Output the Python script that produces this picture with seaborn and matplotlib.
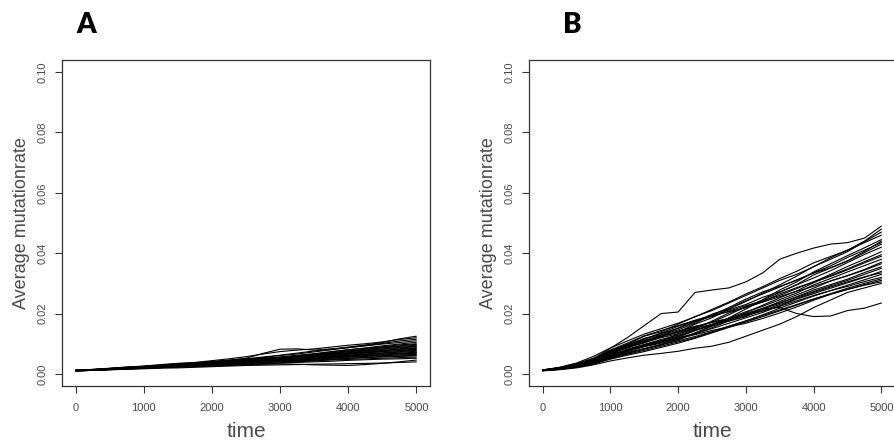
import numpy as np
import pandas as pd
import matplotlib
matplotlib.use('Agg')
import matplotlib.pyplot as plt
import seaborn as sns

sns.set_style('white')
plt.rcParams['font.family'] = ['Liberation Sans', 'DejaVu Sans']

# time checkpoints
time = [0, 250, 500, 750, 1000, 1250, 1500, 1750, 2000, 2250, 2500,
        2750, 3000, 3250, 3500, 3750, 4000, 4250, 4500, 4750, 5000]

# panel A, average mutation rate per run (x 1e-3)
runs_a = [
    [1.1, 1.4, 1.7, 2.1, 2.5, 2.8, 3.2, 3.6, 4.0, 4.5, 5.0, 5.6, 6.2, 6.9, 7.6, 8.2, 8.9, 9.6, 10.4, 11.6, 12.5],
    [1.2, 1.5, 1.9, 2.3, 2.6, 3.1, 3.5, 3.8, 4.4, 5.0, 5.7, 6.6, 7.4, 7.9, 8.3, 8.9, 9.5, 10.0, 10.6, 11.4, 12.0],
    [1.1, 1.3, 1.6, 1.9, 2.3, 2.7, 3.0, 3.5, 3.9, 4.3, 4.9, 5.4, 6.1, 6.6, 7.3, 8.0, 8.7, 9.4, 10.1, 10.9, 11.5],
    [1.2, 1.4, 1.8, 2.2, 2.4, 2.9, 3.4, 3.7, 4.1, 4.6, 5.2, 6.8, 8.2, 8.3, 7.9, 8.3, 8.7, 9.3, 9.9, 10.4, 11.0],
    [1.1, 1.3, 1.6, 2.0, 2.3, 2.6, 3.0, 3.3, 3.7, 4.2, 4.6, 5.1, 5.6, 6.2, 6.7, 7.4, 8.0, 8.6, 9.3, 9.9, 10.5],
    [1.2, 1.4, 1.7, 2.0, 2.4, 2.7, 3.1, 3.4, 3.8, 4.1, 4.5, 5.0, 5.5, 6.0, 6.6, 7.3, 8.0, 8.5, 9.0, 9.6, 10.0],
    [1.0, 1.2, 1.5, 1.8, 2.1, 2.5, 2.8, 3.1, 3.4, 3.9, 4.4, 4.9, 5.4, 5.8, 6.4, 7.0, 7.6, 8.2, 8.8, 9.3, 9.8],
    [1.1, 1.4, 1.8, 2.1, 2.5, 2.9, 3.2, 3.6, 4.0, 4.4, 4.8, 5.2, 5.5, 5.9, 6.4, 6.9, 7.5, 8.0, 8.6, 9.1, 9.5],
    [1.2, 1.3, 1.6, 1.9, 2.2, 2.5, 2.8, 3.1, 3.5, 3.8, 4.2, 4.7, 5.2, 5.8, 6.3, 6.8, 7.3, 7.8, 8.3, 8.8, 9.2],
    [1.1, 1.3, 1.5, 1.8, 2.2, 2.6, 2.9, 3.3, 3.6, 4.0, 4.4, 4.8, 5.1, 5.5, 6.0, 6.5, 7.0, 7.6, 8.1, 8.6, 9.0],
    [1.2, 1.5, 1.8, 2.2, 2.5, 2.8, 3.1, 3.3, 3.6, 3.9, 4.3, 4.8, 5.3, 5.7, 6.1, 6.6, 7.0, 7.4, 7.8, 8.3, 8.7],
    [1.1, 1.3, 1.6, 1.9, 2.1, 2.4, 2.7, 3.1, 3.5, 3.9, 4.3, 4.6, 5.0, 5.4, 5.8, 6.3, 6.8, 7.2, 7.6, 8.1, 8.5],
    [1.0, 1.2, 1.4, 1.7, 2.0, 2.3, 2.6, 2.9, 3.2, 3.6, 4.0, 4.4, 4.8, 5.2, 5.6, 6.0, 6.5, 6.9, 7.4, 7.8, 8.2],
    [1.2, 1.4, 1.7, 2.0, 2.3, 2.6, 2.9, 3.2, 3.5, 3.8, 4.1, 4.4, 4.8, 5.3, 5.9, 6.3, 6.6, 7.0, 7.4, 7.7, 8.0],
    [1.1, 1.3, 1.5, 1.7, 2.0, 2.3, 2.7, 3.0, 3.3, 3.6, 4.0, 4.3, 4.6, 5.0, 5.4, 5.8, 6.2, 6.6, 7.0, 7.4, 7.8],
    [1.1, 1.4, 1.7, 2.0, 2.3, 2.5, 2.8, 3.0, 3.3, 3.6, 3.9, 4.3, 4.7, 5.1, 5.4, 5.8, 6.2, 6.5, 6.9, 7.2, 7.5],
    [1.2, 1.3, 1.5, 1.8, 2.0, 2.3, 2.5, 2.8, 3.1, 3.4, 3.7, 4.0, 4.4, 4.8, 5.2, 5.6, 5.9, 6.3, 6.6, 6.9, 7.2],
    [1.0, 1.2, 1.5, 1.8, 2.1, 2.4, 2.7, 3.0, 3.4, 3.8, 4.1, 4.4, 4.6, 4.9, 5.2, 5.5, 5.8, 6.1, 6.4, 6.7, 7.0],
    [1.1, 1.3, 1.6, 1.8, 2.0, 2.2, 2.5, 2.8, 3.0, 3.3, 3.6, 3.9, 4.2, 4.5, 4.9, 5.3, 5.7, 6.0, 6.3, 6.6, 6.8],
    [1.2, 1.4, 1.6, 1.9, 2.2, 2.5, 2.8, 3.0, 3.2, 3.5, 3.8, 4.1, 4.4, 4.7, 4.9, 5.2, 5.5, 5.8, 6.0, 6.3, 6.5],
    [1.1, 1.2, 1.4, 1.6, 1.9, 2.1, 2.4, 2.7, 2.9, 3.2, 3.5, 3.8, 4.1, 4.3, 4.6, 4.9, 5.2, 5.5, 5.8, 6.0, 6.2],
    [1.0, 1.2, 1.5, 1.7, 1.9, 2.2, 2.4, 2.6, 2.9, 3.2, 3.5, 3.8, 4.0, 4.3, 4.5, 4.8, 5.1, 5.4, 5.6, 5.8, 6.0],
    [1.1, 1.3, 1.5, 1.7, 1.9, 2.1, 2.3, 2.5, 2.7, 2.9, 3.1, 3.4, 3.7, 4.0, 4.3, 4.6, 4.8, 5.0, 5.2, 5.4, 5.6],
    [1.2, 1.4, 1.6, 1.8, 2.0, 2.2, 2.4, 2.6, 2.8, 3.0, 3.2, 3.4, 3.6, 3.8, 4.0, 4.2, 4.5, 4.7, 4.9, 5.0, 5.2],
    [1.1, 1.3, 1.5, 1.7, 1.9, 2.1, 2.3, 2.5, 2.7, 2.9, 3.1, 3.2, 3.3, 3.2, 3.0, 2.9, 2.8, 3.1, 3.5, 4.0, 4.6],
    [1.0, 1.2, 1.4, 1.5, 1.7, 1.9, 2.0, 2.2, 2.4, 2.6, 2.8, 2.9, 3.0, 3.1, 3.2, 3.3, 3.4, 3.5, 3.6, 3.8, 4.0],
]

# panel B, average mutation rate per run (x 1e-3)
runs_b = [
    [1.3, 2.0, 3.2, 5.0, 8.5, 12.0, 16.0, 20.0, 20.5, 27.0, 27.8, 28.5, 30.5, 33.5, 38.0, 40.0, 41.7, 43.0, 43.5, 45.0, 49.0],
    [1.2, 1.9, 3.0, 4.8, 7.5, 9.8, 12.5, 14.0, 16.5, 19.0, 21.0, 23.5, 26.0, 28.5, 31.0, 33.0, 35.5, 38.5, 41.0, 44.0, 48.0],
    [1.1, 1.6, 2.5, 3.8, 5.8, 7.5, 9.5, 11.0, 12.5, 14.5, 16.0, 17.5, 19.0, 21.5, 22.0, 20.0, 19.0, 19.2, 21.0, 21.8, 23.5],
    [1.0, 1.4, 2.0, 3.0, 4.3, 5.3, 6.2, 6.8, 7.5, 8.5, 9.2, 10.5, 12.5, 14.5, 16.5, 19.0, 22.0, 24.5, 27.0, 28.5, 30.0],
    [1.2, 1.9, 2.7, 4.5, 6.4, 8.9, 10.3, 12.4, 13.8, 16.5, 18.6, 21.5, 24.0, 26.8, 29.5, 32.4, 35.6, 38.0, 40.5, 43.8, 47.0],
    [1.3, 2.2, 3.6, 5.8, 8.6, 10.9, 13.2, 15.0, 16.8, 18.9, 21.4, 23.8, 26.5, 28.9, 31.6, 34.0, 36.8, 38.9, 41.0, 43.5, 46.0],
    [1.1, 1.5, 2.3, 3.4, 5.3, 6.8, 8.2, 9.6, 11.2, 13.5, 16.0, 18.6, 21.5, 24.6, 27.8, 30.5, 33.8, 36.5, 39.2, 41.8, 44.5],
    [1.2, 2.0, 3.3, 5.0, 7.8, 9.5, 11.6, 13.4, 15.1, 17.2, 19.8, 21.6, 24.3, 26.5, 28.8, 31.2, 33.4, 35.2, 37.5, 40.6, 44.0],
    [1.3, 1.8, 3.0, 4.8, 7.0, 9.4, 11.8, 13.0, 14.6, 16.8, 19.5, 22.0, 24.8, 27.2, 29.0, 31.0, 33.5, 35.8, 38.6, 41.0, 43.5],
    [1.1, 1.7, 2.6, 4.0, 6.0, 7.9, 9.6, 11.0, 13.2, 15.4, 17.2, 19.6, 22.3, 24.5, 27.0, 29.6, 32.8, 35.1, 37.4, 40.2, 43.0],
    [1.2, 1.9, 2.9, 4.6, 7.2, 9.2, 10.8, 12.9, 15.2, 17.6, 19.3, 21.2, 23.0, 25.4, 27.2, 29.5, 31.8, 34.2, 36.9, 39.6, 42.0],
    [1.2, 1.7, 2.7, 4.2, 6.8, 8.6, 10.4, 12.0, 13.3, 14.9, 17.5, 20.2, 22.0, 24.0, 26.5, 28.6, 30.5, 33.0, 35.6, 38.0, 40.5],
    [1.1, 1.8, 2.8, 4.4, 6.2, 8.0, 9.5, 10.8, 12.2, 14.3, 16.4, 18.0, 20.3, 22.8, 25.2, 27.5, 30.2, 32.6, 34.8, 37.2, 39.5],
    [1.3, 2.0, 3.1, 4.9, 7.6, 9.8, 11.5, 13.6, 15.8, 17.5, 19.0, 20.8, 22.6, 24.2, 26.0, 28.3, 30.5, 32.3, 34.5, 36.8, 39.0],
    [1.2, 1.8, 2.6, 4.1, 6.3, 8.2, 9.8, 11.4, 12.8, 14.6, 16.3, 18.5, 20.6, 22.4, 24.6, 26.8, 29.5, 31.6, 33.8, 35.9, 38.0],
    [1.2, 1.6, 2.5, 3.8, 5.6, 7.3, 9.0, 10.2, 11.6, 13.2, 15.3, 17.6, 19.8, 21.6, 24.0, 26.2, 28.4, 30.8, 32.6, 34.6, 37.0],
    [1.3, 2.1, 3.4, 5.2, 7.9, 10.2, 12.6, 14.4, 16.0, 17.8, 19.4, 20.6, 22.0, 23.8, 25.6, 27.4, 29.0, 30.8, 32.5, 34.4, 36.5],
    [1.1, 1.6, 2.4, 3.6, 5.5, 6.9, 8.3, 9.8, 11.5, 13.6, 15.8, 17.8, 19.6, 21.5, 23.4, 25.6, 27.8, 29.6, 31.4, 33.6, 35.5],
    [1.2, 1.9, 3.0, 4.5, 6.9, 8.8, 10.6, 12.3, 14.0, 15.6, 17.2, 18.4, 20.0, 21.8, 23.6, 25.4, 27.3, 29.2, 31.0, 33.0, 35.0],
    [1.2, 1.7, 2.6, 3.9, 6.0, 7.6, 9.1, 10.5, 12.0, 13.4, 15.0, 16.8, 18.6, 20.4, 22.6, 24.8, 26.6, 28.4, 30.2, 32.0, 34.0],
    [1.1, 1.8, 2.9, 4.6, 7.0, 9.0, 10.9, 12.6, 13.8, 15.2, 16.4, 17.6, 19.2, 21.0, 23.0, 25.0, 27.0, 28.8, 30.5, 32.2, 33.5],
    [1.2, 1.6, 2.3, 3.4, 5.0, 6.5, 7.8, 9.2, 10.6, 12.0, 13.8, 15.8, 17.5, 19.6, 21.8, 23.8, 25.8, 27.6, 29.4, 31.2, 33.0],
    [1.3, 2.0, 3.1, 4.7, 7.1, 9.3, 11.2, 12.7, 14.2, 15.8, 17.0, 18.2, 19.5, 20.8, 22.4, 24.2, 26.0, 27.6, 29.0, 30.6, 32.0],
    [1.1, 1.5, 2.2, 3.3, 4.9, 6.2, 7.4, 8.8, 10.2, 11.8, 13.6, 15.4, 17.2, 19.0, 20.9, 22.8, 24.8, 26.6, 28.4, 30.0, 31.5],
    [1.2, 1.8, 2.7, 4.1, 6.1, 7.8, 9.3, 10.6, 11.8, 13.0, 14.4, 15.6, 16.8, 18.4, 20.2, 22.2, 24.4, 26.4, 28.0, 29.6, 31.0],
    [1.2, 1.7, 2.5, 3.7, 5.5, 7.0, 8.4, 9.7, 11.0, 12.4, 14.0, 15.8, 17.6, 19.4, 21.2, 23.0, 24.8, 26.4, 28.0, 29.4, 30.5],
]

xticks = [0, 1000, 2000, 3000, 4000, 5000]
yticks = [0.00, 0.02, 0.04, 0.06, 0.08, 0.10]
panel_labels = ['A', 'B']


def to_long(runs):
    rows = []
    for i, run in enumerate(runs):
        for t, v in zip(time, run):
            rows.append({'time': t, 'rate': v / 1000.0, 'run': i})
    return pd.DataFrame(rows)


fig = plt.figure(figsize=(8.95, 4.46), dpi=100)
ax_a = fig.add_axes([62 / 895, 1 - 386 / 446, 368 / 895, 326 / 446])
ax_b = fig.add_axes([529 / 895, 1 - 386 / 446, 366 / 895, 326 / 446])

grey = '#4a4a4a'
for ax, runs, lab in zip([ax_a, ax_b], [runs_a, runs_b], panel_labels):
    df = to_long(runs)
    sns.lineplot(data=df, x='time', y='rate', units='run', estimator=None,
                 color='black', lw=0.8, ax=ax, legend=False)
    ax.set_xlim(-200, 5200)
    ax.set_ylim(-0.004, 0.104)
    ax.set_xticks(xticks)
    ax.set_xticklabels([str(x) for x in xticks])
    ax.set_yticks(yticks)
    ax.set_yticklabels(['%.2f' % y for y in yticks], rotation=90, va='center')
    ax.tick_params(direction='out', length=5, width=0.8, color='#333333',
                   labelsize=8, labelcolor=grey, left=True, bottom=True)
    ax.tick_params(axis='x', pad=7)
    ax.tick_params(axis='y', pad=5)
    for s in ax.spines.values():
        s.set_color('#333333')
        s.set_linewidth(0.9)
    ax.set_xlabel('time', fontsize=15, color=grey, labelpad=7)
    ax.set_ylabel('Average mutationrate', fontsize=13, color=grey, labelpad=6)
    # panel letter
    ax.text(0.038 if lab == 'A' else 0.093, 1.107, lab, transform=ax.transAxes,
            fontsize=20, fontweight='heavy', color='black',
            family=['Lato', 'DejaVu Sans'], va='center', ha='left')

plt.savefig('out.png', dpi=100)
